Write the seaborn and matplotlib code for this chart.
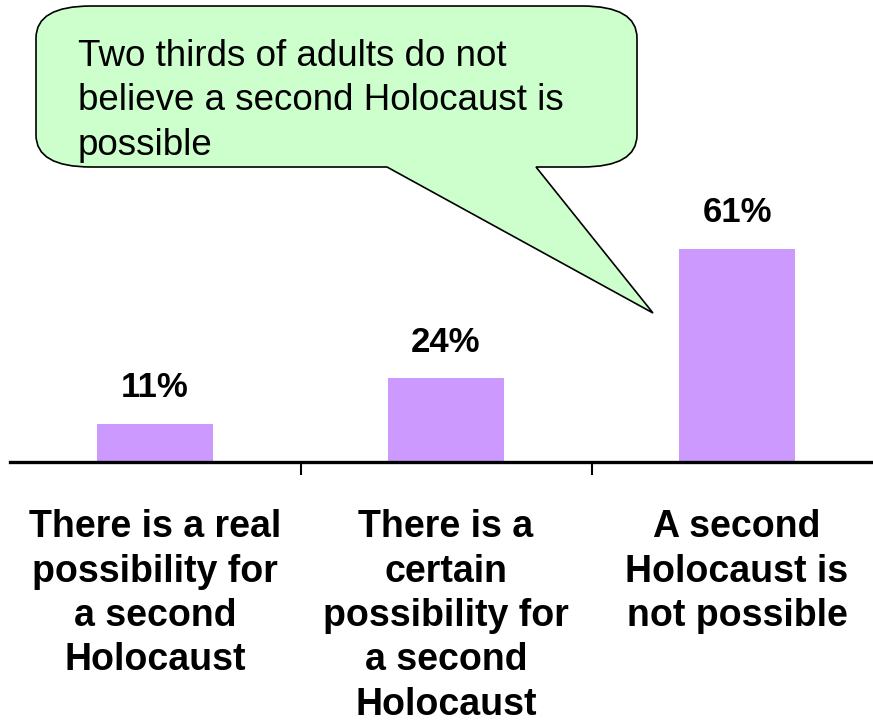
import numpy as np
import matplotlib
matplotlib.use("Agg")
import matplotlib.pyplot as plt
import matplotlib.patches as mpatches
from matplotlib.path import Path
from matplotlib.transforms import Affine2D
import seaborn as sns
import pandas as pd

# data
categories = [
    "There is a real\npossibility for\na second\nHolocaust",
    "There is a\ncertain\npossibility for\na second\nHolocaust",
    "A second\nHolocaust is\nnot possible",
]
values = [11, 24, 61]
value_labels = ["11%", "24%", "61%"]
callout_text = "Two thirds of adults do not\nbelieve a second Holocaust is\npossible"

W, H = 873, 727
sns.set_style("white")
plt.rcParams["font.family"] = ["Liberation Sans", "DejaVu Sans"]
plt.rcParams["text.color"] = "black"
plt.rcParams["xtick.color"] = "black"
plt.rcParams["xtick.labelcolor"] = "black"

fig = plt.figure(figsize=(W / 100, H / 100), dpi=100)
# axes placed in pixels: baseline at y=462, 3.5 px per percent
ax = fig.add_axes([9.5 / W, (H - 462) / H, 873 / W, 455 / H])

df = pd.DataFrame({"cat": categories, "val": values})
sns.barplot(data=df, x="cat", y="val", color="#CC99FF", saturation=1,
            width=0.4, edgecolor="none", ax=ax)
ax.set_xlim(-0.5, 2.5)
ax.set_ylim(0, 130)

for i, (v, lab) in enumerate(zip(values, value_labels)):
    ax.annotate(lab, (i, v), xytext=(0, 19), textcoords="offset points",
                ha="center", va="baseline", fontsize=25, fontweight="bold",
                color="black")

# ticks between categories, labels centred under bars
ax.set_xticks([0.5, 1.5])
ax.set_xticklabels(["", ""])
ax.set_xticks([0, 1, 2], minor=True)
ax.set_xticklabels(categories, minor=True, fontsize=27, fontweight="bold",
                   linespacing=1.3, va="top", color="black")
ax.tick_params(axis="x", which="major", direction="out", length=9, width=1.5,
               color="black", bottom=True)
ax.tick_params(axis="x", which="minor", length=0, pad=34)
ax.set_yticks([])
ax.set_xlabel("")
ax.set_ylabel("")
for s in ["left", "top", "right"]:
    ax.spines[s].set_visible(False)
ax.spines["bottom"].set_linewidth(2.4)
ax.spines["bottom"].set_color("black")

# speech bubble (pixel coords, y up)
L, R, T, B = 36, 637, H - 6, H - 167
rx, ry = 55, 32
tail = [(536, B), (653, H - 313), (387, B)]
verts = [(L + rx, T), (R - rx, T), (R, T), (R, T - ry), (R, B + ry),
         (R, B), (R - rx, B)] + tail + [(L + rx, B), (L, B), (L, B + ry),
         (L, T - ry), (L, T), (L + rx, T), (L + rx, T)]
codes = [Path.MOVETO, Path.LINETO, Path.CURVE3, Path.CURVE3, Path.LINETO,
         Path.CURVE3, Path.CURVE3, Path.LINETO, Path.LINETO, Path.LINETO,
         Path.LINETO, Path.CURVE3, Path.CURVE3, Path.LINETO, Path.CURVE3,
         Path.CURVE3, Path.CLOSEPOLY]
px = Affine2D().scale(1 / W, 1 / H) + fig.transFigure
bubble = mpatches.PathPatch(Path(verts, codes), facecolor="#CCFFCC",
                            edgecolor="black", linewidth=1.2, transform=px,
                            zorder=5)
fig.patches.append(bubble)
fig.text(78 / W, 1 - 39 / H, callout_text, ha="left", va="top", fontsize=26.5,
         linespacing=1.35, color="black", zorder=6)

fig.savefig("out.png", dpi=100)
